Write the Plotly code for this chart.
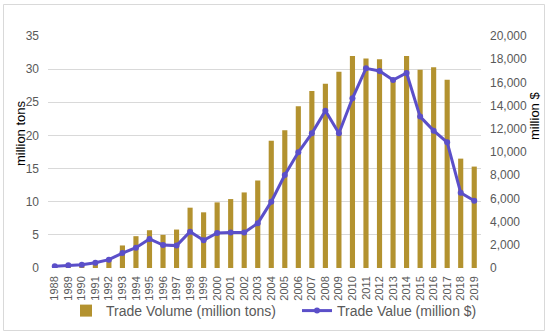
import plotly.graph_objects as go

years = [str(y) for y in range(1988, 2020)]
trade_volume = [0.2, 0.3, 0.3, 0.6, 1.2, 3.4, 4.8, 5.7, 5.0, 5.8, 9.1, 8.4, 9.9, 10.4, 11.4, 13.2,
                19.2, 20.8, 24.4, 26.7, 27.8, 29.6, 32.0, 31.6, 31.5, 28.5, 32.0, 29.9, 30.3, 28.4,
                16.5, 15.3]
trade_value = [150, 230, 290, 460, 720, 1290, 1750, 2500, 1980, 1930, 3130, 2390, 3020, 3070, 3070,
               3850, 5720, 8020, 9970, 11610, 13560, 11610, 14630, 17210, 16980, 16210, 16810, 13050,
               11840, 10830, 6490, 5800]
left_ticks = [0, 5, 10, 15, 20, 25, 30, 35]
right_ticks = list(range(0, 20001, 2000))

TXT = "#595959"
GRID = "#d9d9d9"
FONT = "Liberation Sans, Arial, sans-serif"

fig = go.Figure()
fig.add_trace(go.Bar(x=years, y=trade_volume, name="Trade Volume (million tons)",
                     marker=dict(color="#B3922F", line=dict(width=0)), yaxis="y", legend="legend"))
fig.add_trace(go.Scatter(x=years, y=trade_value, name="Trade Value (million $)", mode="lines+markers",
                         line=dict(color="#5B4FC9", width=3), marker=dict(size=6, color="#5B4FC9"),
                         yaxis="y2", legend="legend2"))

leg_common = dict(orientation="h", xref="container", yref="container", xanchor="left",
                  y=1 - 311 / 334, yanchor="middle", bgcolor="rgba(0,0,0,0)",
                  font=dict(size=14, color=TXT, family=FONT), itemwidth=30)

fig.update_layout(
    width=550, height=334,
    margin=dict(l=48, r=69, t=36, b=66, autoexpand=False),
    paper_bgcolor="white", plot_bgcolor="rgba(0,0,0,0)",
    font=dict(family=FONT, color=TXT, size=11),
    bargap=0.62,
    showlegend=True,
    legend=dict(x=66 / 550, **leg_common),
    legend2=dict(x=297 / 550, **leg_common),
    xaxis=dict(type="category", range=[-0.5, len(years) - 0.5], tickmode="array",
               tickvals=years, ticktext=years,
               tickangle=-90, tickfont=dict(size=11, color=TXT),
               showgrid=False, showline=False, ticks="", ticklabelstandoff=5, automargin=False),
    yaxis=dict(range=[0, 35], tickvals=left_ticks, showgrid=True, gridcolor=GRID, gridwidth=1,
               zeroline=False, tickfont=dict(size=12, color=TXT), ticklabelstandoff=8,
               automargin=False),
    yaxis2=dict(range=[0, 20000], tickvals=right_ticks, overlaying="y", side="right",
                showgrid=False, zeroline=False, tickformat=",", tickfont=dict(size=12, color=TXT),
                ticklabelstandoff=8, automargin=False),
    annotations=[
        dict(text="million tons", xref="paper", yref="paper", x=(20 - 48) / 433, y=(268 - 133) / 232,
             xanchor="center", yanchor="middle", textangle=-90, showarrow=False,
             font=dict(size=13, color="#000000")),
        dict(text="million $", xref="paper", yref="paper", x=(534 - 48) / 433, y=(268 - 116) / 232,
             xanchor="center", yanchor="middle", textangle=-90, showarrow=False,
             font=dict(size=13, color="#000000")),
    ],
)

fig.add_shape(type="rect", xref="paper", yref="paper",
              x0=(3.5 - 48) / 433, x1=(544.5 - 48) / 433, y0=(268 - 330.5) / 232, y1=(268 - 4.5) / 232,
              line=dict(color=GRID, width=1), fillcolor="rgba(0,0,0,0)", layer="above")

fig.write_html("out.html", config={"displayModeBar": False},
               post_script="document.body.style.margin='0';document.body.style.padding='0';")
